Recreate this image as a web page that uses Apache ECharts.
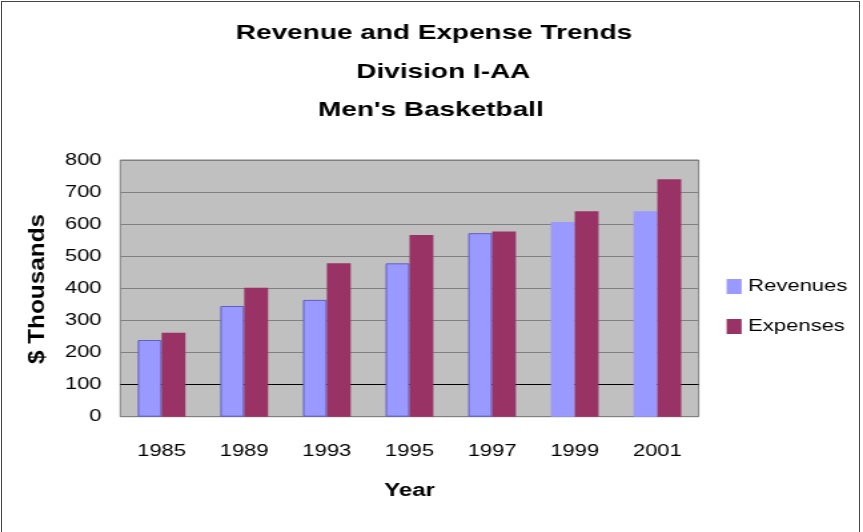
<!DOCTYPE html>
<html>
<head>
<meta charset="utf-8">
<script src="https://cdn.jsdelivr.net/npm/echarts@6/dist/echarts.min.js"></script>
<style>
  body { margin: 0; background: #fff; }
  #frame { position: absolute; left: 1px; top: 1px; width: 859px; height: 560px; border: 1px solid #444; box-sizing: border-box; }
  /* the original chart is drawn wide: lay out at 648px and stretch to 863px */
  #main { position: absolute; left: 0; top: 0; width: 648px; height: 532px; transform: scaleX(1.3318); transform-origin: 0 0; }
</style>
</head>
<body>
<div id="main"></div>
<div id="frame"></div>
<script>
var years = ['1985', '1989', '1993', '1995', '1997', '1999', '2001'];
var revenues = [239, 345, 364, 478, 572, 607, 640];
var expenses = [262, 402, 478, 566, 577, 640, 740];
var titleLines = ['Revenue and Expense Trends', 'Division I-AA', "Men's Basketball"];

var FONT = '"Liberation Sans", Arial, sans-serif';

var chart = echarts.init(document.getElementById('main'), null, { width: 648, height: 532 });

// first five revenue bars carry a darker outline in the original
var revData = revenues.map(function (v, i) {
  return i < 5 ? { value: v, itemStyle: { borderColor: '#5f5fc4', borderWidth: 1 } } : v;
});

var titleX = [325.9, 332.9, 323.5];
var titleY = [33.5, 72, 110.5];

var option = {
  backgroundColor: '#fff',
  animation: false,
  textStyle: { fontFamily: FONT },
  grid: {
    left: 90.3, right: 123.4, top: 160, bottom: 115.3,
    show: true, backgroundColor: '#c0c0c0', borderColor: '#808080', borderWidth: 1,
    outerBoundsMode: 'none'
  },
  legend: {
    orient: 'vertical',
    left: 545.6,
    top: 278,
    padding: 0,
    itemWidth: 11.26,
    itemHeight: 15,
    itemGap: 23,
    icon: 'rect',
    textStyle: { fontSize: 16.5, color: '#000', fontFamily: FONT },
    data: ['Revenues', 'Expenses']
  },
  xAxis: {
    type: 'category',
    data: years,
    name: 'Year',
    nameLocation: 'middle',
    nameGap: 65,
    nameTextStyle: { fontSize: 18, fontWeight: 'bold', color: '#000', fontFamily: FONT },
    axisLine: { show: false },
    axisTick: { show: false },
    axisLabel: { fontSize: 16.5, color: '#000', margin: 26, fontFamily: FONT }
  },
  yAxis: {
    type: 'value',
    min: 0, max: 800, interval: 100,
    axisLine: { show: false },
    axisTick: { show: false },
    axisLabel: { fontSize: 16.5, color: '#000', margin: 14, fontFamily: FONT },
    splitLine: {
      lineStyle: {
        width: 1,
        color: ['#808080', '#000000', '#808080', '#808080', '#808080', '#808080', '#808080', '#808080', '#808080']
      }
    }
  },
  series: [
    { name: 'Revenues', type: 'bar', data: revData, barWidth: 17.9, barGap: 0, itemStyle: { color: '#9999ff' } },
    { name: 'Expenses', type: 'bar', data: expenses, barWidth: 17.9, barGap: 0, itemStyle: { color: '#993366' } }
  ],
  graphic: titleLines.map(function (t, i) {
    return {
      type: 'text', x: titleX[i], y: titleY[i],
      style: { text: t, font: 'bold 21px ' + FONT, fill: '#000', textAlign: 'center', textVerticalAlign: 'middle' }
    };
  }).concat([{
    // rotated axis title; squeezed across to undo the page stretch
    type: 'text', x: 28.5, y: 289, rotation: Math.PI / 2, scaleX: 1.16, scaleY: 0.75,
    style: { text: '$ Thousands', font: 'bold 21px ' + FONT, fill: '#000', textAlign: 'center', textVerticalAlign: 'middle' }
  }])
};

chart.setOption(option);
</script>
</body>
</html>
